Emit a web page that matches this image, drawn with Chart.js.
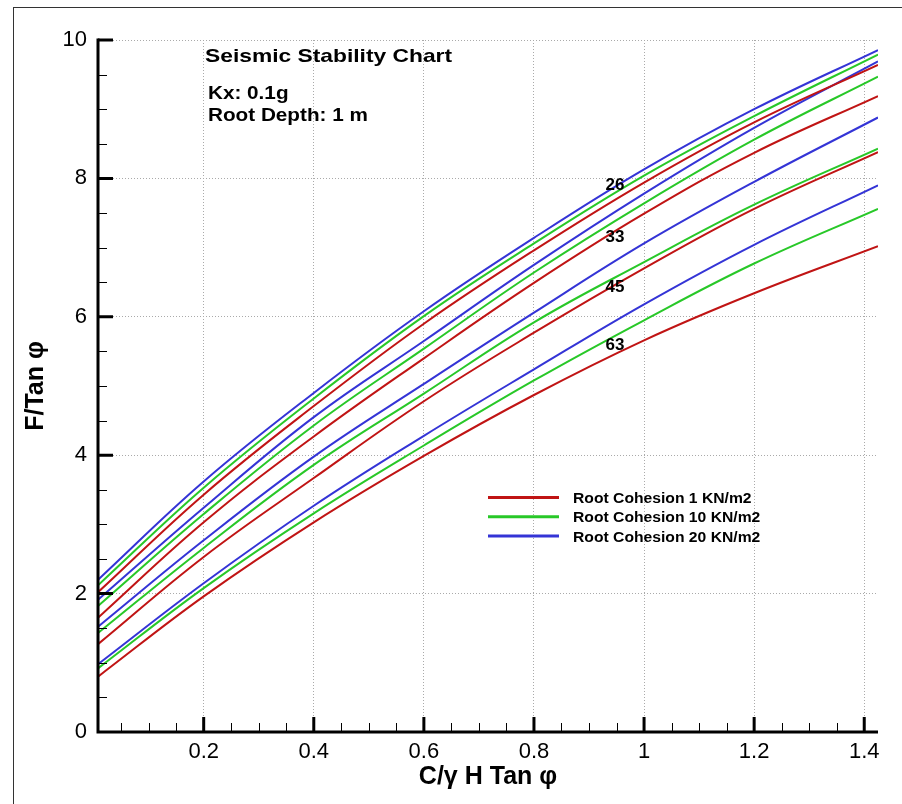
<!DOCTYPE html>
<html><head><meta charset="utf-8">
<script src="https://cdn.jsdelivr.net/npm/chart.js@4.4.1/dist/chart.umd.min.js"></script>
<style>
html,body{margin:0;padding:0;background:#fff;}
#wrap{position:relative;width:902px;height:804px;overflow:hidden;}
#frame{position:absolute;left:13px;top:7px;right:-2px;bottom:-2px;border-top:1px solid #333;border-left:1px solid #333;pointer-events:none;}
canvas{position:absolute;left:0;top:0;}
</style></head><body>
<div id="wrap"><canvas id="c" width="902" height="804"></canvas><div id="frame"></div></div>
<script>
// ---- data ----
const xValues = [0.008, 0.2, 0.4, 0.6, 0.8, 1.0, 1.2, 1.425];
// phi = 26
const phi26_c1  = [2.02, 3.43, 4.71, 5.90, 6.96, 7.94, 8.81, 9.64];
const phi26_c10 = [2.12, 3.53, 4.82, 6.01, 7.06, 8.04, 8.90, 9.79];
const phi26_c20 = [2.20, 3.62, 4.90, 6.08, 7.14, 8.13, 9.00, 9.855];
// phi = 33
const phi33_c1  = [1.65, 3.03, 4.27, 5.40, 6.49, 7.49, 8.37, 9.19];
const phi33_c10 = [1.82, 3.15, 4.43, 5.54, 6.64, 7.64, 8.56, 9.47];
const phi33_c20 = [1.91, 3.24, 4.55, 5.65, 6.75, 7.78, 8.73, 9.69];
// phi = 45
const phi45_c1  = [1.27, 2.53, 3.67, 4.78, 5.77, 6.70, 7.56, 8.38];
const phi45_c10 = [1.43, 2.66, 3.86, 4.89, 5.92, 6.79, 7.62, 8.43];
const phi45_c20 = [1.52, 2.77, 3.98, 5.03, 6.06, 7.06, 7.95, 8.88];
// phi = 63
const phi63_c1  = [0.80, 1.96, 3.03, 3.99, 4.87, 5.66, 6.34, 7.02];
const phi63_c10 = [0.92, 2.08, 3.16, 4.14, 5.08, 5.95, 6.77, 7.56];
const phi63_c20 = [0.98, 2.15, 3.27, 4.28, 5.24, 6.18, 7.04, 7.90];

const seriesNames = ['Root Cohesion 1 KN/m2', 'Root Cohesion 10 KN/m2', 'Root Cohesion 20 KN/m2'];
const phiLabels = ['26', '33', '45', '63'];
const phiLabelX = [0.947, 0.947, 0.947, 0.947];
const phiLabelY = [7.90, 7.15, 6.43, 5.59];

const xTickValues = [0.2, 0.4, 0.6, 0.8, 1.0, 1.2, 1.4];
const xMinorTicks = [0.05,0.1,0.15,0.25,0.3,0.35,0.45,0.5,0.55,0.65,0.7,0.75,0.85,0.9,0.95,1.05,1.1,1.15,1.25,1.3,1.35];
const yTickValues = [0, 2, 4, 6, 8, 10];
const yMinorTicks = [0.5,1,1.5,2.5,3,3.5,4.5,5,5.5,6.5,7,7.5,8.5,9,9.5];
const xMin = 0.008, xMax = 1.425, yMin = 0, yMax = 10;

const chartTitle = 'Seismic Stability Chart';
const infoLines = ['Kx: 0.1g', 'Root Depth: 1 m'];
const xTitle = 'C/\u03B3 H Tan \u03C6';
const yTitle = 'F/Tan \u03C6';

// ---- styling ----
const FONT = '"Liberation Sans", Arial, Helvetica, sans-serif';
const RED = 'rgb(192,20,20)', GREEN = 'rgb(40,200,40)', BLUE = 'rgb(52,52,214)';
const colors = [RED, GREEN, BLUE];

const groups = [
  [phi26_c1, phi26_c10, phi26_c20],
  [phi33_c1, phi33_c10, phi33_c20],
  [phi45_c1, phi45_c10, phi45_c20],
  [phi63_c1, phi63_c10, phi63_c20]
];
const datasets = [];
groups.forEach((g, gi) => {
  g.forEach((vals, si) => {
    datasets.push({
      label: seriesNames[si] + ' (phi ' + phiLabels[gi] + ')',
      data: xValues.map((x, i) => ({x: x, y: vals[i]})),
      borderColor: colors[si],
      borderWidth: 2,
      pointRadius: 0,
      fill: false,
      tension: 0.4
    });
  });
});

function stretchedText(ctx, text, x, y, sx) {
  ctx.save();
  ctx.translate(x, y);
  ctx.scale(sx, 1);
  ctx.fillText(text, 0, 0);
  ctx.restore();
}

const decorPlugin = {
  id: 'decor',
  afterDatasetsDraw(chart) {
    const {ctx, chartArea: a, scales: {x, y}} = chart;
    ctx.save();
    ctx.strokeStyle = '#000';
    ctx.lineWidth = 1;
    ctx.beginPath();
    xMinorTicks.forEach(v => { const px = Math.round(x.getPixelForValue(v)) + 0.5; ctx.moveTo(px, a.bottom); ctx.lineTo(px, a.bottom - 9); });
    yMinorTicks.forEach(v => { const py = Math.round(y.getPixelForValue(v)) + 0.5; ctx.moveTo(a.left, py); ctx.lineTo(a.left + 9, py); });
    ctx.stroke();
    ctx.lineWidth = 3;
    ctx.beginPath();
    xTickValues.forEach(v => { const px = x.getPixelForValue(v); ctx.moveTo(px, a.bottom); ctx.lineTo(px, a.bottom - 15); });
    yTickValues.forEach(v => { if (v === 0) return; const py = y.getPixelForValue(v); ctx.moveTo(a.left, py); ctx.lineTo(a.left + 15, py); });
    ctx.stroke();
    ctx.beginPath();
    ctx.moveTo(a.left, a.top - 1.5);
    ctx.lineTo(a.left, a.bottom);
    ctx.lineTo(a.right, a.bottom);
    ctx.stroke();

    // phi labels
    ctx.fillStyle = '#000';
    ctx.font = 'bold 17px ' + FONT;
    ctx.textAlign = 'center';
    ctx.textBaseline = 'middle';
    phiLabels.forEach((t, i) => ctx.fillText(t, x.getPixelForValue(phiLabelX[i]), y.getPixelForValue(phiLabelY[i])));

    // title & info
    ctx.textAlign = 'left';
    ctx.textBaseline = 'alphabetic';
    ctx.font = 'bold 19px ' + FONT;
    stretchedText(ctx, chartTitle, 205, 62, 1.2);
    ctx.font = 'bold 18px ' + FONT;
    stretchedText(ctx, infoLines[0], 208, 99, 1.15);
    stretchedText(ctx, infoLines[1], 208, 121, 1.15);

    // legend
    const legY = [497.5, 516.8, 536];
    ctx.font = 'bold 14px ' + FONT;
    seriesNames.forEach((n, i) => {
      ctx.strokeStyle = colors[i];
      ctx.lineWidth = 3;
      ctx.beginPath();
      ctx.moveTo(488, legY[i]);
      ctx.lineTo(559, legY[i]);
      ctx.stroke();
      ctx.fillStyle = '#000';
      stretchedText(ctx, n, 573, legY[i] + 5.5, 1.12);
    });
    ctx.restore();
  }
};

new Chart(document.getElementById('c'), {
  type: 'line',
  data: { datasets: datasets },
  plugins: [decorPlugin],
  options: {
    responsive: false,
    animation: false,
    events: [],
    layout: { padding: { left: 0, top: 40, right: 24, bottom: 0 } },
    plugins: { legend: { display: false }, tooltip: { enabled: false }, title: { display: false } },
    scales: {
      x: {
        type: 'linear', min: xMin, max: xMax,
        afterBuildTicks: s => { s.ticks = xTickValues.map(v => ({value: v})); },
        afterFit: s => { s.height = 72; },
        grid: { color: '#aaa', lineWidth: 1, drawTicks: false },
        border: { display: false, dash: [1, 2] },
        ticks: { color: '#000', font: { family: FONT, size: 22 }, padding: 7, maxRotation: 0, autoSkip: false,
                 callback: v => String(v) },
        title: { display: true, text: xTitle, color: '#000', font: { family: FONT, size: 25, weight: 'bold' }, padding: { top: 0, bottom: 12 } }
      },
      y: {
        type: 'linear', min: yMin, max: yMax,
        afterBuildTicks: s => { s.ticks = yTickValues.map(v => ({value: v})); },
        afterFit: s => { s.width = 98; },
        grid: { color: '#aaa', lineWidth: 1, drawTicks: false },
        border: { display: false, dash: [1, 2] },
        ticks: { color: '#000', font: { family: FONT, size: 22 }, padding: 11, autoSkip: false,
                 callback: v => String(v) },
        title: { display: true, text: yTitle, color: '#000', font: { family: FONT, size: 25, weight: 'bold' }, padding: { top: 21, bottom: 0 } }
      }
    }
  }
});
</script>
</body></html>
